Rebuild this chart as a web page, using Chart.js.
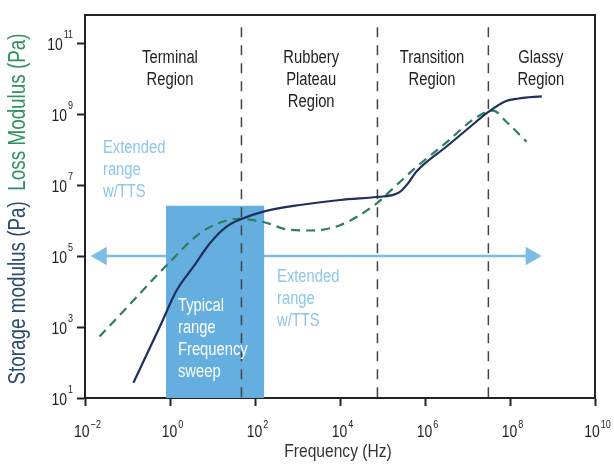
<!DOCTYPE html>
<html>
<head>
<meta charset="utf-8">
<script src="https://cdn.jsdelivr.net/npm/chart.js@4/dist/chart.umd.min.js"></script>
<style>
  html, body { margin: 0; padding: 0; background: #fff; }
  canvas { display: block; }
</style>
</head>
<body>
<canvas id="chart" width="614" height="468"></canvas>
<script>
// values: frequency in Hz, modulus in Pa
const storageFreq = [0.138, 0.575, 1.45, 3.55, 8.7, 21.4, 44.7, 158, 1150, 1.0e4, 8.7e4, 1.58e5, 2.51e5, 3.98e5, 6.3e5, 3.16e6, 1.0e7, 3.1e7, 7.9e7, 1.58e8, 5.6e8];
const storageModulus = [27, 1020, 1.1e4, 5.0e4, 2.29e5, 6.76e5, 1.07e6, 1.78e6, 2.75e6, 3.8e6, 4.68e6, 5.13e6, 6.3e6, 1.12e7, 2.4e7, 1.2e8, 3.8e8, 1.15e9, 2.3e9, 2.75e9, 3.16e9];
const lossFreq = [0.0219, 0.1, 1.0, 5.0, 15.8, 39.8, 158, 631, 2000, 1.0e4, 7.2e4, 1.58e5, 5.75e5, 3.16e6, 1.66e7, 3.98e7, 8.3e7, 2.45e8];
const lossModulus = [537, 3700, 6.9e4, 4.37e5, 8.91e5, 1.12e6, 9.12e5, 5.5e5, 5.25e5, 7.41e5, 3.0e6, 7.1e6, 2.95e7, 1.58e8, 8.3e8, 1.26e9, 6.0e8, 1.66e8];

const regionBounds = [48, 7.6e4, 3.1e7];      // dashed separators (Hz)
const regionTop = 2.8e11;
const sweepRange = [0.8, 166];                 // typical frequency sweep (Hz)
const sweepTop = 2.63e6;
const ttsRange = [0.0243, 3.12e8];             // arrow ends (Hz)
const ttsLevel = 1e5;

const xTickExps = [-2, 0, 2, 4, 6, 8, 10];
const yTickExps = [1, 3, 5, 7, 9, 11];

const FONT = '"Liberation Sans", Arial, sans-serif';
const SQUEEZE = 0.82;   // no Arial Narrow here, so squeeze the regular face
const NAVY = '#1f2f5c';
const GREEN = '#2e7d5c';
const BOX = '#65aee0';
const ARROW = '#7dbce5';
const LIGHT_TXT = '#8cc6ea';

const notes = [
    { lines: ['Terminal', 'Region'], x: 1.0, y: 2.75e10, align: 'center', color: '#222' },
    { lines: ['Rubbery', 'Plateau', 'Region'], x: 2100, y: 2.75e10, align: 'center', color: '#222' },
    { lines: ['Transition', 'Region'], x: 1.46e6, y: 2.75e10, align: 'center', color: '#222' },
    { lines: ['Glassy', 'Region'], x: 5.3e8, y: 2.75e10, align: 'center', color: '#222' },
    { lines: ['Extended', 'range', 'w/TTS'], x: 0.0265, y: 7.9e7, align: 'left', color: LIGHT_TXT },
    { lines: ['Extended', 'range', 'w/TTS'], x: 330, y: 1.86e4, align: 'left', color: LIGHT_TXT },
    { lines: ['Typical', 'range', 'Frequency', 'sweep'], x: 1.54, y: 2800, align: 'left', color: '#ffffff' }
];

const pts = (xs, ys) => xs.map((x, i) => ({ x: x, y: ys[i] }));

const datasets = [
    {
        data: pts(storageFreq, storageModulus),
        borderColor: NAVY, borderWidth: 2.2, pointRadius: 0,
        cubicInterpolationMode: 'monotone', order: 0
    },
    {
        data: pts(lossFreq, lossModulus),
        borderColor: GREEN, borderWidth: 2.2, borderDash: [9, 6], pointRadius: 0,
        cubicInterpolationMode: 'monotone', order: 1
    },
    ...regionBounds.map(f => ({
        data: [{ x: f, y: regionTop }, { x: f, y: 10 }],
        borderColor: '#444', borderWidth: 1.5, borderDash: [10, 8], pointRadius: 0, order: 2
    })),
    {
        data: [{ x: sweepRange[0], y: sweepTop }, { x: sweepRange[1], y: sweepTop }],
        borderWidth: 0, borderColor: 'rgba(0,0,0,0)', backgroundColor: BOX,
        fill: 'start', pointRadius: 0, order: 3
    },
    {
        data: [{ x: ttsRange[0], y: ttsLevel }, { x: ttsRange[1], y: ttsLevel }],
        borderColor: ARROW, borderWidth: 2.5,
        pointStyle: 'triangle', pointRadius: 10.7, pointBorderWidth: 0,
        pointBackgroundColor: ARROW, pointBorderColor: ARROW,
        pointRotation: ctx => ctx.dataIndex === 0 ? -90 : 90,
        order: 4
    }
];

// draws condensed text, returns its width
function narrow(ctx, text, x, y, size, align) {
    ctx.save();
    ctx.font = size + 'px ' + FONT;
    ctx.textAlign = 'left';
    const w = ctx.measureText(text).width * SQUEEZE;
    const left = align === 'center' ? x - w / 2 : align === 'right' ? x - w : x;
    ctx.translate(left, y);
    ctx.scale(SQUEEZE, 1);
    ctx.fillText(text, 0, 0);
    ctx.restore();
    return w;
}
function narrowWidth(ctx, text, size) {
    ctx.save();
    ctx.font = size + 'px ' + FONT;
    const w = ctx.measureText(text).width * SQUEEZE;
    ctx.restore();
    return w;
}

const decorations = {
    id: 'decorations',
    afterDraw(chart) {
        const ctx = chart.ctx;
        const a = chart.chartArea;
        const xs = chart.scales.x, ys = chart.scales.y;
        ctx.save();
        ctx.textBaseline = 'alphabetic';

        // top / right border of the box
        ctx.strokeStyle = '#222';
        ctx.lineWidth = 2;
        ctx.beginPath();
        ctx.moveTo(a.left, a.top);
        ctx.lineTo(a.right, a.top);
        ctx.lineTo(a.right, a.bottom);
        ctx.stroke();

        // annotations
        notes.forEach(n => {
            ctx.fillStyle = n.color;
            const px = xs.getPixelForValue(n.x);
            const py = ys.getPixelForValue(n.y);
            n.lines.forEach((l, i) => narrow(ctx, l, px, py + i * 22, 18, n.align));
        });

        // tick labels 10^n
        ctx.fillStyle = '#222';
        xs.ticks.forEach(t => {
            const e = String(Math.round(Math.log10(t.value))).replace('-', '\u2212');
            const px = xs.getPixelForValue(t.value);
            const wb = narrowWidth(ctx, '10', 17);
            const we = narrowWidth(ctx, e, 11);
            const x0 = px - (wb + we) / 2 + 2;
            narrow(ctx, '10', x0, a.bottom + 39, 17, 'left');
            narrow(ctx, e, x0 + wb + 1, a.bottom + 30, 11, 'left');
        });
        ys.ticks.forEach(t => {
            const e = String(Math.round(Math.log10(t.value)));
            const py = ys.getPixelForValue(t.value);
            const wb = narrowWidth(ctx, '10', 17);
            const we = narrowWidth(ctx, e, 11);
            const x0 = a.left - 13 - we - wb;
            narrow(ctx, '10', x0, py + 7, 17, 'left');
            narrow(ctx, e, x0 + wb + 1, py - 5, 11, 'left');
        });

        // axis titles
        ctx.fillStyle = '#333';
        narrow(ctx, 'Frequency (Hz)', xs.getPixelForValue(1e4) - 2, 457, 19, 'center');

        const t1 = 'Storage modulus (Pa)  ';
        const t2 = 'Loss Modulus (Pa)';
        const w1 = narrowWidth(ctx, t1, 23), w2 = narrowWidth(ctx, t2, 23);
        ctx.translate(25, 209);
        ctx.rotate(-Math.PI / 2);
        ctx.fillStyle = '#2b4a70';
        narrow(ctx, t1, -(w1 + w2) / 2, 0, 23, 'left');
        ctx.fillStyle = '#2f9062';
        narrow(ctx, t2, -(w1 + w2) / 2 + w1, 0, 23, 'left');
        ctx.restore();
    }
};

const axisGrid = { drawOnChartArea: false, drawTicks: true, tickLength: 8, tickColor: '#222', tickWidth: 2 };

new Chart(document.getElementById('chart'), {
    type: 'scatter',
    data: { datasets: datasets.map(d => ({ showLine: true, tension: 0, ...d })) },
    options: {
        responsive: false,
        animation: false,
        devicePixelRatio: 1,
        layout: { padding: { top: 15, right: 19, left: 0, bottom: 0 } },
        plugins: { legend: { display: false }, tooltip: { enabled: false } },
        scales: {
            x: {
                type: 'logarithmic', min: 1e-2, max: 1e10,
                afterBuildTicks: s => { s.ticks = xTickExps.map(e => ({ value: Math.pow(10, e) })); },
                afterFit: s => { s.height = 70; },
                ticks: { display: false },
                grid: axisGrid,
                border: { color: '#222', width: 2 }
            },
            y: {
                type: 'logarithmic', min: 10, max: 6.2e11,
                afterBuildTicks: s => { s.ticks = yTickExps.map(e => ({ value: Math.pow(10, e) })); },
                afterFit: s => { s.width = 85; },
                ticks: { display: false },
                grid: axisGrid,
                border: { color: '#222', width: 2 }
            }
        }
    },
    plugins: [decorations]
});
</script>
</body>
</html>
